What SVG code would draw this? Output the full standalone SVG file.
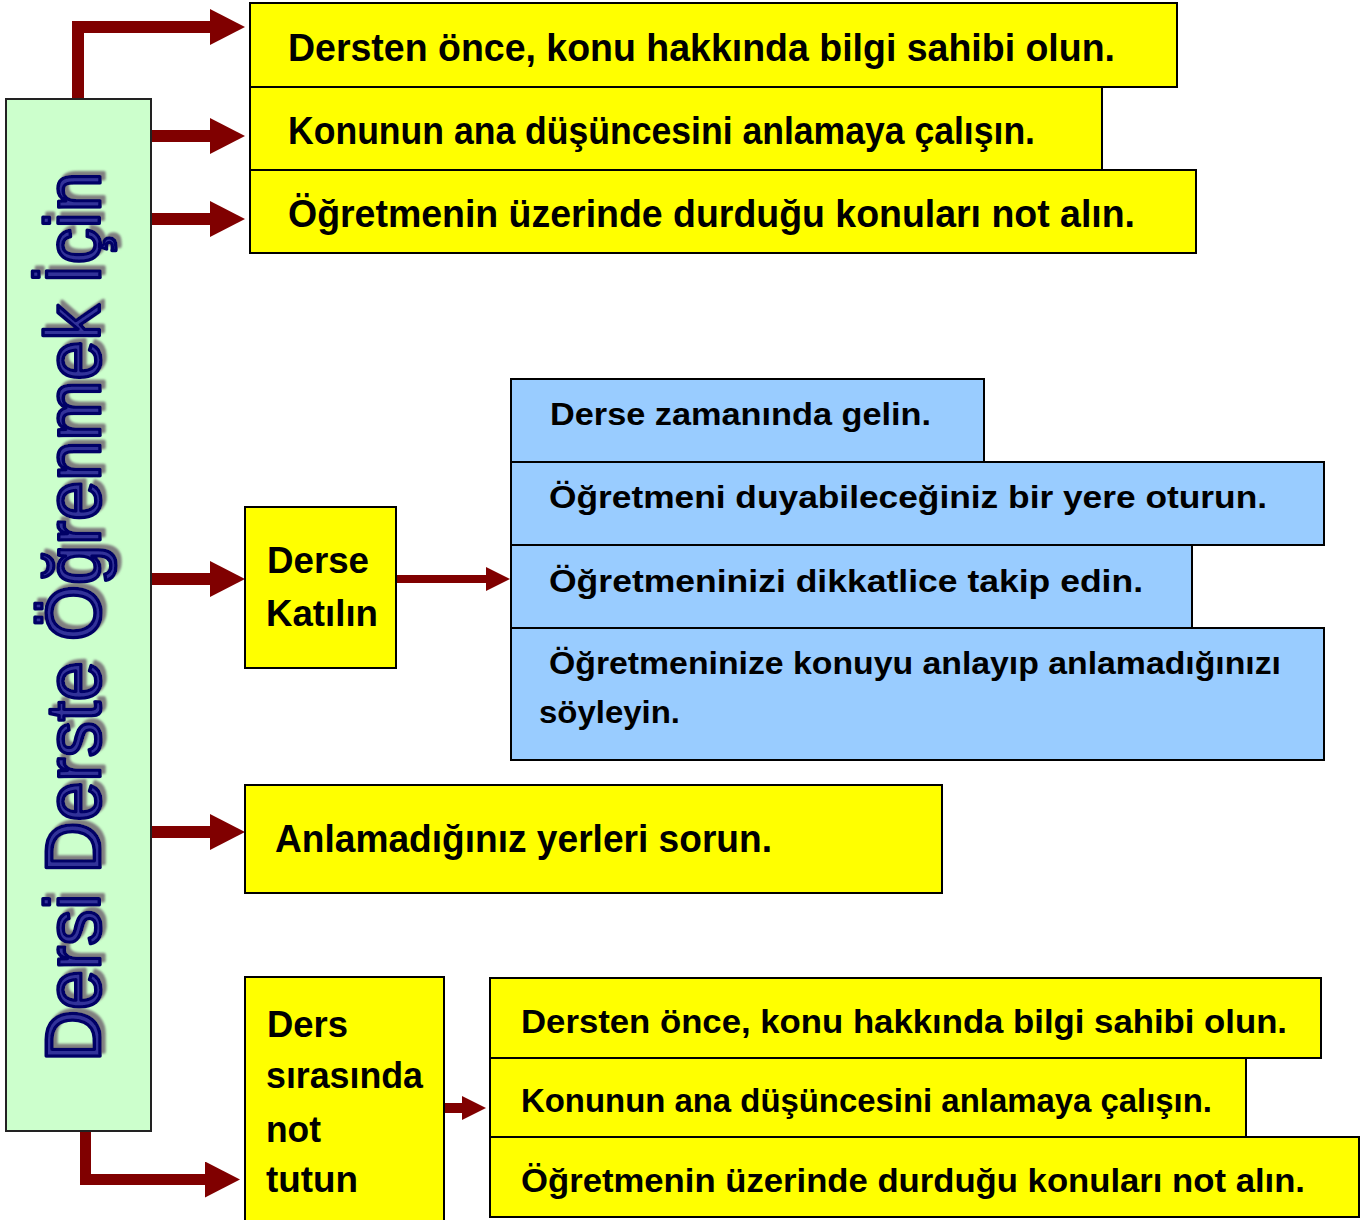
<svg xmlns="http://www.w3.org/2000/svg" width="1371" height="1220" viewBox="0 0 1371 1220">
<style>
.box{stroke:#000;stroke-width:2}
.y{fill:#ffff00}
.b{fill:#99ccff}
.g{fill:#ccffcc;stroke:#222;stroke-width:2}
.t{font-family:"Liberation Sans",Arial,sans-serif;font-weight:bold;fill:#000}
.conn{fill:none;stroke:#800000;stroke-linejoin:miter}
.title{font-family:"Liberation Sans",Arial,sans-serif;font-weight:normal;font-size:78px;fill:#333399;stroke:#000066;stroke-width:3.5;stroke-linejoin:round}
</style>
<defs>
<marker id="head" viewBox="0 0 35 36" refX="0" refY="18" markerWidth="35" markerHeight="36" markerUnits="userSpaceOnUse" orient="auto">
<polygon points="0,0 35,18 0,36" fill="#800000"/>
</marker>
<marker id="headS" viewBox="0 0 24 24" refX="0" refY="12" markerWidth="24" markerHeight="24" markerUnits="userSpaceOnUse" orient="auto">
<polygon points="0,0 24,12 0,24" fill="#800000"/>
</marker>
<filter id="shadow" x="-10%" y="-10%" width="130%" height="130%">
<feDropShadow dx="4" dy="4" stdDeviation="0.8" flood-color="#808080" flood-opacity="1"/>
</filter>
</defs>
<rect width="1371" height="1220" fill="#fff"/>

<g id="connectors">
<path class="conn" stroke-width="12" d="M78,99 V27 H210" marker-end="url(#head)"/>
<path class="conn" stroke-width="12" d="M151,136 H210" marker-end="url(#head)"/>
<path class="conn" stroke-width="12" d="M151,219 H210" marker-end="url(#head)"/>
<path class="conn" stroke-width="12" d="M151,579 H210" marker-end="url(#head)"/>
<path class="conn" stroke-width="12" d="M151,832 H210" marker-end="url(#head)"/>
<path class="conn" stroke-width="11" d="M85.5,1131 V1179.5 H205" marker-end="url(#head)"/>
<path class="conn" stroke-width="8" d="M390,579 H486" marker-end="url(#headS)"/>
<path class="conn" stroke-width="10" d="M445,1108 H462" marker-end="url(#headS)"/>
</g>

<g id="title">
<rect class="g" x="6" y="99" width="145" height="1032"/>
<text class="title" filter="url(#shadow)" transform="translate(100,1062) rotate(-90)" x="0" y="0" textLength="890" lengthAdjust="spacingAndGlyphs">Dersi Derste Öğrenmek İçin</text>
</g>

<g id="top1">
<rect class="box y" x="250" y="3" width="927" height="84"/>
<text class="t" x="288" y="61" font-size="39" textLength="827" lengthAdjust="spacingAndGlyphs">Dersten önce, konu hakkında bilgi sahibi olun.</text>
</g>
<g id="top2">
<rect class="box y" x="250" y="87" width="852" height="83"/>
<text class="t" x="288" y="144" font-size="39" textLength="747" lengthAdjust="spacingAndGlyphs">Konunun ana düşüncesini anlamaya çalışın.</text>
</g>
<g id="top3">
<rect class="box y" x="250" y="170" width="946" height="83"/>
<text class="t" x="288" y="227" font-size="39" textLength="847" lengthAdjust="spacingAndGlyphs">Öğretmenin üzerinde durduğu konuları not alın.</text>
</g>

<g id="katilin">
<rect class="box y" x="245" y="507" width="151" height="161"/>
<text class="t" x="267" y="573" font-size="36" textLength="102" lengthAdjust="spacingAndGlyphs">Derse</text>
<text class="t" x="266" y="626" font-size="36" textLength="112" lengthAdjust="spacingAndGlyphs">Katılın</text>
</g>

<g id="blue1">
<rect class="box b" x="511" y="379" width="473" height="83"/>
<text class="t" x="550" y="425" font-size="32" textLength="381" lengthAdjust="spacingAndGlyphs">Derse zamanında gelin.</text>
</g>
<g id="blue2">
<rect class="box b" x="511" y="462" width="813" height="83"/>
<text class="t" x="549" y="508" font-size="32" textLength="718" lengthAdjust="spacingAndGlyphs">Öğretmeni duyabileceğiniz bir yere oturun.</text>
</g>
<g id="blue3">
<rect class="box b" x="511" y="545" width="681" height="83"/>
<text class="t" x="549" y="592" font-size="32" textLength="594" lengthAdjust="spacingAndGlyphs">Öğretmeninizi dikkatlice takip edin.</text>
</g>
<g id="blue4">
<rect class="box b" x="511" y="628" width="813" height="132"/>
<text class="t" x="549" y="674" font-size="32" textLength="732" lengthAdjust="spacingAndGlyphs">Öğretmeninize konuyu anlayıp anlamadığınızı</text>
<text class="t" x="539" y="723" font-size="32" textLength="141" lengthAdjust="spacingAndGlyphs">söyleyin.</text>
</g>

<g id="sorun">
<rect class="box y" x="245" y="785" width="697" height="108"/>
<text class="t" x="275" y="852" font-size="39" textLength="497" lengthAdjust="spacingAndGlyphs">Anlamadığınız yerleri sorun.</text>
</g>

<g id="notTutun">
<rect class="box y" x="245" y="977" width="199" height="250"/>
<text class="t" x="267" y="1037" font-size="36" textLength="81" lengthAdjust="spacingAndGlyphs">Ders</text>
<text class="t" x="266" y="1088" font-size="36" textLength="157" lengthAdjust="spacingAndGlyphs">sırasında</text>
<text class="t" x="266" y="1142" font-size="36" textLength="55" lengthAdjust="spacingAndGlyphs">not</text>
<text class="t" x="266" y="1192" font-size="36" textLength="92" lengthAdjust="spacingAndGlyphs">tutun</text>
</g>

<g id="bottom1">
<rect class="box y" x="490" y="978" width="831" height="80"/>
<text class="t" x="521" y="1033" font-size="34" textLength="766" lengthAdjust="spacingAndGlyphs">Dersten önce, konu hakkında bilgi sahibi olun.</text>
</g>
<g id="bottom2">
<rect class="box y" x="490" y="1058" width="756" height="79"/>
<text class="t" x="521" y="1112" font-size="34" textLength="691" lengthAdjust="spacingAndGlyphs">Konunun ana düşüncesini anlamaya çalışın.</text>
</g>
<g id="bottom3">
<rect class="box y" x="490" y="1137" width="869" height="80"/>
<text class="t" x="521" y="1192" font-size="34" textLength="784" lengthAdjust="spacingAndGlyphs">Öğretmenin üzerinde durduğu konuları not alın.</text>
</g>
</svg>
